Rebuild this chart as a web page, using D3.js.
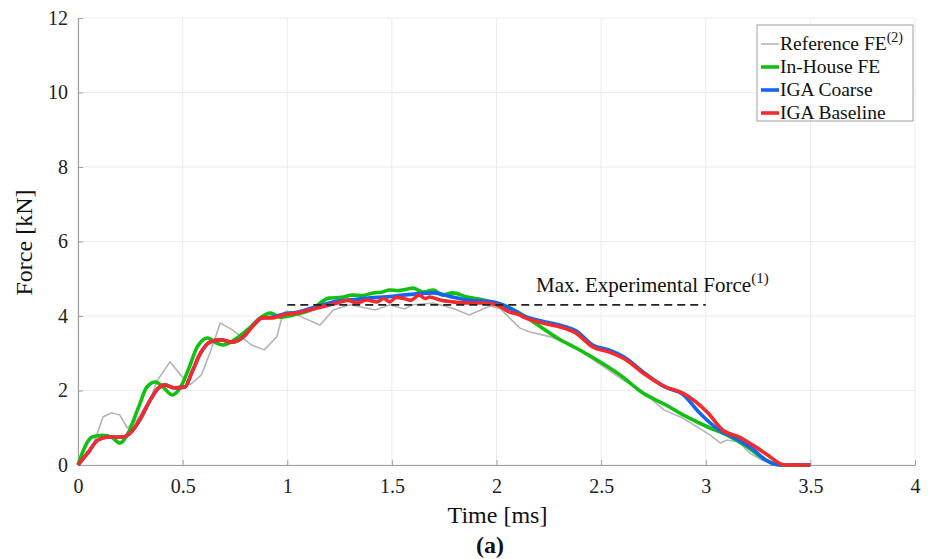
<!DOCTYPE html>
<html><head><meta charset="utf-8">
<script src="https://cdn.jsdelivr.net/npm/d3@7"></script>
<style>body{margin:0;background:#fff}svg{display:block}</style>
</head><body>
<svg id="c" width="935" height="559"></svg>
<script>
const xTicks = [0,0.5,1,1.5,2,2.5,3,3.5,4];
const yTicks = [0,2,4,6,8,10,12];

const refT = [0,0.06,0.12,0.16,0.2,0.235,0.28,0.35,0.38,0.44,0.49,0.535,0.59,0.63,0.68,0.74,0.83,0.89,0.95,0.98,1.0,1.045,1.157,1.22,1.30,1.42,1.49,1.56,1.60,1.70,1.79,1.87,1.97,2.02,2.11,2.16,2.26,2.38,2.50,2.60,2.70,2.80,2.89,3.02,3.07,3.10,3.16,3.21,3.27,3.34];
const refF = [0,0.35,1.29,1.40,1.34,1.0,1.2,1.83,2.28,2.77,2.42,2.15,2.42,3.0,3.81,3.62,3.22,3.09,3.44,4.08,4.13,4.03,3.76,4.16,4.30,4.16,4.30,4.19,4.30,4.35,4.21,4.03,4.27,4.19,3.68,3.57,3.44,3.14,2.68,2.30,1.96,1.48,1.26,0.81,0.59,0.67,0.62,0.32,0.13,0];

const inhT = [0,0.03,0.067,0.12,0.16,0.2,0.24,0.29,0.33,0.37,0.41,0.45,0.49,0.53,0.57,0.62,0.66,0.69,0.76,0.82,0.87,0.92,0.965,1.03,1.11,1.20,1.26,1.31,1.36,1.41,1.45,1.49,1.53,1.57,1.60,1.65,1.70,1.74,1.79,1.86,1.91,1.97,2.03,2.11,2.21,2.29,2.38,2.48,2.59,2.70,2.81,2.91,3.01,3.10,3.20,3.27,3.32,3.35,3.5];
const inhF = [0,0.45,0.75,0.8,0.75,0.59,0.86,1.56,2.1,2.23,2.07,1.88,2.09,2.6,3.17,3.41,3.28,3.22,3.41,3.68,3.95,4.08,3.97,4.03,4.16,4.48,4.50,4.56,4.55,4.62,4.64,4.70,4.68,4.72,4.75,4.64,4.70,4.56,4.62,4.51,4.46,4.38,4.30,4.08,3.71,3.41,3.14,2.82,2.42,1.93,1.61,1.29,1.02,0.81,0.48,0.19,0.05,0,0];

const coaT = [0,0.05,0.095,0.145,0.21,0.25,0.30,0.345,0.385,0.415,0.46,0.51,0.545,0.585,0.63,0.68,0.74,0.79,0.84,0.88,0.93,0.98,1.045,1.14,1.24,1.33,1.43,1.49,1.55,1.63,1.70,1.78,1.86,1.98,2.08,2.13,2.22,2.30,2.38,2.46,2.54,2.62,2.70,2.81,2.89,2.97,3.06,3.14,3.22,3.29,3.33,3.36,3.5];
const coaF = [0,0.35,0.67,0.75,0.75,0.86,1.26,1.74,2.07,2.15,2.07,2.09,2.5,3.0,3.3,3.36,3.30,3.44,3.76,3.95,3.97,4.05,4.1,4.25,4.4,4.45,4.5,4.52,4.56,4.6,4.62,4.52,4.43,4.38,4.16,4.0,3.86,3.76,3.6,3.22,3.08,2.86,2.5,2.08,1.9,1.40,0.95,0.72,0.45,0.12,0.02,0,0];

const basT = [0,0.05,0.095,0.145,0.21,0.25,0.30,0.345,0.385,0.415,0.46,0.51,0.545,0.585,0.63,0.68,0.74,0.79,0.84,0.88,0.93,0.98,1.045,1.14,1.24,1.29,1.33,1.38,1.43,1.46,1.49,1.52,1.55,1.59,1.63,1.66,1.68,1.73,1.79,1.86,1.94,2.0,2.06,2.11,2.13,2.22,2.30,2.38,2.46,2.54,2.62,2.70,2.81,2.89,3.01,3.08,3.16,3.24,3.31,3.35,3.38,3.5];
const basF = [0,0.35,0.67,0.75,0.75,0.86,1.26,1.74,2.07,2.15,2.07,2.09,2.5,3.0,3.3,3.36,3.30,3.44,3.76,3.95,3.95,4.03,4.08,4.21,4.35,4.42,4.35,4.43,4.38,4.47,4.38,4.50,4.48,4.42,4.56,4.47,4.51,4.43,4.38,4.35,4.35,4.30,4.11,4.03,3.97,3.81,3.71,3.54,3.17,3.03,2.82,2.47,2.09,1.93,1.40,0.94,0.75,0.48,0.21,0.05,0,0];

const maxT = [1,3];
const maxF = [4.3,4.3];

const svg = d3.select("#c");
const L=78, R=915, T=18, B=465;
const x = d3.scaleLinear().domain([0,4]).range([L,R]);
const y = d3.scaleLinear().domain([0,12]).range([B,T]);
const font = "'Liberation Serif','Times New Roman',serif";

// grid
svg.append("g").selectAll("line").data(xTicks).join("line")
  .attr("x1",d=>x(d)).attr("x2",d=>x(d)).attr("y1",T).attr("y2",B)
  .attr("stroke","#ebebeb").attr("stroke-width",1);
svg.append("g").selectAll("line").data(yTicks).join("line")
  .attr("y1",d=>y(d)).attr("y2",d=>y(d)).attr("x1",L).attr("x2",R)
  .attr("stroke","#ebebeb").attr("stroke-width",1);

// axes
const xa = svg.append("g").attr("transform",`translate(0,${B})`)
  .call(d3.axisBottom(x).tickValues(xTicks).tickSizeInner(-5).tickSizeOuter(0).tickPadding(14).tickFormat(d=>String(d)));
const ya = svg.append("g").attr("transform",`translate(${L},0)`)
  .call(d3.axisLeft(y).tickValues(yTicks).tickSizeInner(-5).tickSizeOuter(0).tickPadding(10).tickFormat(d=>String(d)));
[xa,ya].forEach(a=>{
  a.select(".domain").attr("stroke","#a0a0a0").attr("stroke-width",1.2);
  a.selectAll(".tick line").attr("stroke","#a0a0a0");
  a.selectAll("text").attr("font-family",font).attr("font-size",20).attr("fill","#222");
});

const line = d3.line().x(d=>x(d[0])).y(d=>y(d[1]));
const sm = d3.line().x(d=>x(d[0])).y(d=>y(d[1])).curve(d3.curveMonotoneX);
const zip=(a,b)=>a.map((v,i)=>[v,b[i]]);

svg.append("path").datum(zip(refT,refF)).attr("d",line).attr("fill","none").attr("stroke","#b4b4b4").attr("stroke-width",1.6);
svg.append("path").datum(zip(inhT,inhF)).attr("d",sm).attr("fill","none").attr("stroke","#12c012").attr("stroke-width",3.6);
svg.append("path").datum(zip(coaT,coaF)).attr("d",sm).attr("fill","none").attr("stroke","#1565f5").attr("stroke-width",3.6);
svg.append("path").datum(zip(basT,basF)).attr("d",sm).attr("fill","none").attr("stroke","#f52a2a").attr("stroke-width",3.6);

svg.append("path").datum(zip(maxT,maxF)).attr("d",line).attr("fill","none").attr("stroke","#222").attr("stroke-width",1.6).attr("stroke-dasharray","8,5");

const mt = svg.append("text").attr("x",536).attr("y",292).attr("font-family",font).attr("font-size",21).attr("fill","#111");
mt.append("tspan").text("Max. Experimental Force");
mt.append("tspan").attr("dy",-9).attr("font-size",15).text("(1)");

// axis titles
svg.append("text").attr("x",(L+R)/2+1).attr("y",523).attr("text-anchor","middle").attr("font-family",font).attr("font-size",24).attr("fill","#111").text("Time [ms]");
svg.append("text").attr("transform",`translate(32,${(T+B)/2+1}) rotate(-90)`).attr("text-anchor","middle").attr("font-family",font).attr("font-size",24).attr("fill","#111").text("Force [kN]");
svg.append("text").attr("x",490).attr("y",553).attr("text-anchor","middle").attr("font-family",font).attr("font-size",24).attr("font-weight","bold").attr("fill","#111").text("(a)");

// legend
const names = ["Reference FE","In-House FE","IGA Coarse","IGA Baseline"];
const colors = ["#b4b4b4","#12c012","#1565f5","#f52a2a"];
const widths = [1.6,3.6,3.6,3.6];
const lg = svg.append("g");
lg.append("rect").attr("x",757).attr("y",25).attr("width",156).attr("height",96).attr("fill","#fff").attr("stroke","#a0a0a0").attr("stroke-width",1);
names.forEach((n,i)=>{
  const cy = 44 + i*23;
  lg.append("line").attr("x1",761).attr("x2",779).attr("y1",cy).attr("y2",cy).attr("stroke",colors[i]).attr("stroke-width",widths[i]);
  const t = lg.append("text").attr("x",780).attr("y",cy+6).attr("font-family",font).attr("font-size",19.5).attr("fill","#111");
  t.append("tspan").text(n);
  if(i===0) t.append("tspan").attr("dy",-8).attr("font-size",14).text("(2)");
});
</script>
</body></html>
